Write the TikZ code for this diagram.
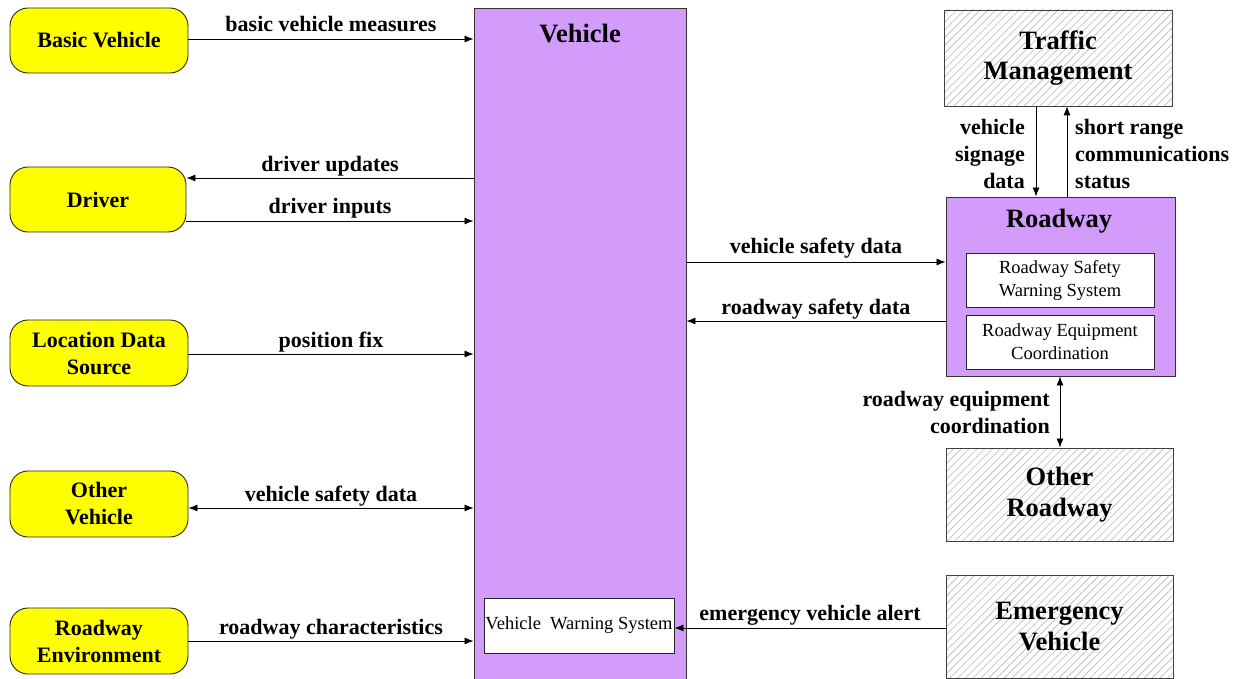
\documentclass[tikz,border=0pt]{standalone}
\usepackage{fontspec}
\setmainfont{Liberation Serif}
\usetikzlibrary{arrows.meta,patterns.meta}
\definecolor{ylw}{HTML}{FFFF00}
\definecolor{purp}{HTML}{D49CFA}
\definecolor{hatchc}{HTML}{B8B8B8}
\tikzset{
  ext/.style={draw=black!85,line width=0.9pt,rounded corners=18pt,fill=ylw,inner sep=0pt,align=center,font=\fontsize{22}{27}\selectfont\bfseries},
  hatchbox/.style={draw=black!75,line width=0.9pt,inner sep=0pt,align=center,font=\fontsize{26.5}{30.5}\selectfont\bfseries,
     pattern={Lines[angle=45,distance=5.5pt,line width=0.6pt]},pattern color=hatchc},
  purbox/.style={draw=black!80,line width=0.9pt,fill=purp,inner sep=0pt},
  inbox/.style={draw=black!85,line width=0.9pt,fill=white,inner sep=0pt,align=center,font=\fontsize{18.5}{23}\selectfont},
  flow/.style={line width=0.8pt,-{Latex[length=9pt,width=7pt]}},
  biflow/.style={line width=0.8pt,{Latex[length=9pt,width=7pt]}-{Latex[length=9pt,width=7pt]}},
  lbl/.style={font=\fontsize{22}{27}\selectfont\bfseries,inner sep=0pt,align=center},
  blbl/.style={lbl,anchor=base,yshift=#1},
  ttl/.style={font=\fontsize{26.5}{30}\selectfont\bfseries,inner sep=0pt}
}
\begin{document}
\begin{tikzpicture}[x=1pt,y=-1pt]
\useasboundingbox (0,0) rectangle (1242,679);
\fill[white] (0,0) rectangle (1242,679);
% left externals
\node[ext,minimum width=178pt,minimum height=65pt] (bv) at (99,40.5) {Basic Vehicle};
\node[ext,minimum width=176pt,minimum height=65pt] (dr) at (98,199.5) {Driver};
\node[ext,minimum width=178pt,minimum height=66pt] (lds) at (99,353) {Location Data\\Source};
\node[ext,minimum width=178pt,minimum height=66pt] (ov) at (99,504) {Other\\Vehicle};
\node[ext,minimum width=178pt,minimum height=66pt] (re) at (99,641) {Roadway\\Environment};
% vehicle
\node[purbox,minimum width=212pt,minimum height=672pt] (veh) at (580,344) {};
\node[ttl] (vehT) at (580,34) {Vehicle};
\node[inbox,minimum width=190pt,minimum height=55pt] (vws) at (579,625.5) {Vehicle\ \ Warning System};
% right side
\node[hatchbox,minimum width=228pt,minimum height=96pt] (tm) at (1058,58) {Traffic\\Management};
\node[purbox,minimum width=229pt,minimum height=179pt] (rw) at (1060.5,286.5) {};
\node[ttl] (rwT) at (1059,221) {Roadway};
\node[inbox,minimum width=188pt,minimum height=54pt] (rsws) at (1060,280) {Roadway Safety\\Warning System};
\node[inbox,minimum width=188pt,minimum height=54pt] (rec) at (1060,342) {Roadway Equipment\\Coordination};
\node[hatchbox,minimum width=227pt,minimum height=93pt] (orw) at (1059.5,494.5) {Other\\Roadway};
\node[hatchbox,minimum width=227pt,minimum height=103pt] (ev) at (1059.5,626.5) {Emergency\\Vehicle};
% left flows
\draw[flow] (bv.east |- 0,39) -- (veh.west |- 0,39) node[blbl=7pt,midway] (l1) {basic vehicle measures};
\draw[flow] (veh.west |- 0,178) -- (dr.east |- 0,178) node[blbl=6.5pt,midway] (l2) {driver updates};
\draw[flow] (dr.east |- 0,221) -- (veh.west |- 0,221) node[blbl=7.5pt,midway] (l3) {driver inputs};
\draw[flow] (lds.east |- 0,354) -- (veh.west |- 0,354) node[blbl=7pt,midway] (l4) {position fix};
\draw[biflow] (ov.east |- 0,508) -- (veh.west |- 0,508) node[blbl=7pt,midway] (l5) {vehicle safety data};
\draw[flow] (re.east |- 0,641) -- (veh.west |- 0,641) node[blbl=7pt,midway] (l6) {roadway characteristics};
% right flows
\draw[flow] (veh.east |- 0,262) -- (rw.west |- 0,262) node[blbl=9pt,midway] (l7) {vehicle safety data};
\draw[flow] (rw.west |- 0,321) -- (veh.east |- 0,321) node[blbl=6.5pt,midway] (l8) {roadway safety data};
\draw[flow] (ev.west |- 0,628) -- (vws.east |- 0,628) node[blbl=7.5pt,midway] (l9) {emergency vehicle alert};
\draw[flow] (tm.south -| 1036,0) -- (rw.north -| 1036,0);
\node[lbl,align=right,anchor=east] (l10) at (1025,154) {vehicle\\signage\\data};
\draw[flow] (rw.north -| 1067,0) -- (tm.south -| 1067,0);
\node[lbl,align=left,anchor=west] (l11) at (1075,154) {short range\\communications\\status};
\draw[biflow] (rw.south -| 1060,0) -- (orw.north -| 1060,0);
\node[lbl,align=right,anchor=east] (l12) at (1050,412) {roadway equipment\\coordination};
\end{tikzpicture}
\end{document}
